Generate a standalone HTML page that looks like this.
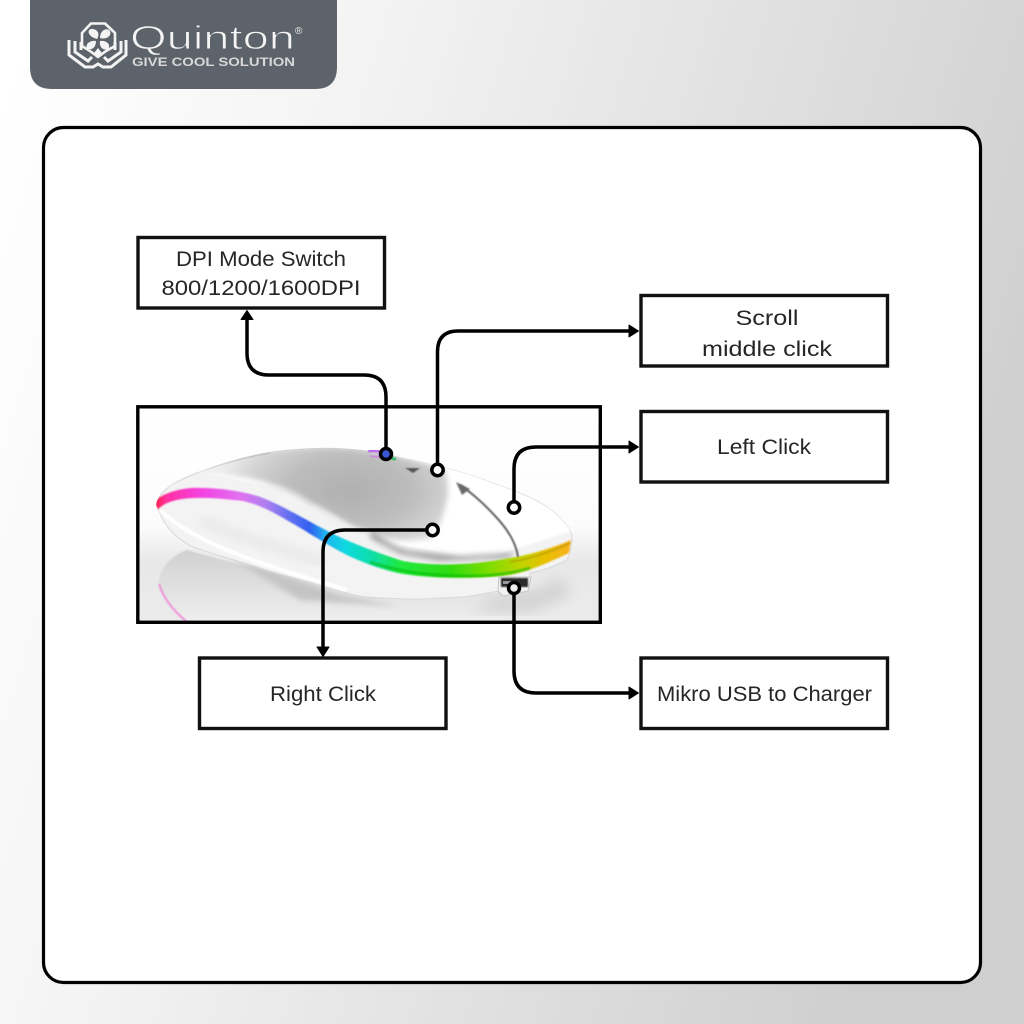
<!DOCTYPE html>
<html>
<head>
<meta charset="utf-8">
<style>
html,body{margin:0;padding:0;width:1024px;height:1024px;overflow:hidden}
svg{display:block}
text{font-family:"Liberation Sans",sans-serif;fill:#262626}
.l{font-size:21px;text-anchor:middle}
</style>
</head>
<body>
<svg width="1024" height="1024" viewBox="0 0 1024 1024" xmlns="http://www.w3.org/2000/svg">
<defs>
<linearGradient id="bg" x1="0" y1="0.1" x2="1" y2="0.4">
<stop offset="0" stop-color="#ffffff"/><stop offset="0.3" stop-color="#f4f4f4"/><stop offset="1" stop-color="#cfcfcf"/>
</linearGradient>
<linearGradient id="rgb" gradientUnits="userSpaceOnUse" x1="156" y1="0" x2="570" y2="0">
<stop offset="0" stop-color="#ff2050"/><stop offset="0.025" stop-color="#ff30a0"/><stop offset="0.107" stop-color="#f440e0"/>
<stop offset="0.203" stop-color="#e070f0"/><stop offset="0.263" stop-color="#b080f0"/><stop offset="0.324" stop-color="#6070f0"/>
<stop offset="0.372" stop-color="#3060f0"/><stop offset="0.408" stop-color="#20b0f0"/><stop offset="0.457" stop-color="#10d8e0"/>
<stop offset="0.53" stop-color="#10e0a0"/><stop offset="0.589" stop-color="#20e840"/><stop offset="0.71" stop-color="#30dc10"/>
<stop offset="0.807" stop-color="#80dc00"/><stop offset="0.88" stop-color="#c0d400"/><stop offset="0.94" stop-color="#e8c000"/><stop offset="1" stop-color="#f8b020"/>
</linearGradient>
<radialGradient id="shell" gradientUnits="userSpaceOnUse" cx="350" cy="490" r="135" gradientTransform="translate(350 490) scale(1 .55) translate(-350 -490)">
<stop offset="0" stop-color="#b0b0b0"/><stop offset="0.45" stop-color="#bcbcbc"/><stop offset="0.75" stop-color="#d2d2d2"/><stop offset="1" stop-color="#eeeeee"/>
</radialGradient>
<linearGradient id="floor" x1="0" y1="0" x2="0" y2="1">
<stop offset="0" stop-color="#ffffff"/><stop offset="0.55" stop-color="#fcfcfc"/><stop offset="0.72" stop-color="#e8e8e8"/><stop offset="1" stop-color="#ebebeb"/>
</linearGradient>
<linearGradient id="refl" x1="0" y1="0" x2="0" y2="1">
<stop offset="0" stop-color="#d0d0d0"/><stop offset="1" stop-color="#efefef"/>
</linearGradient>
<filter id="b1"><feGaussianBlur stdDeviation="0.8"/></filter>
<filter id="b3"><feGaussianBlur stdDeviation="3"/></filter>
<filter id="b5"><feGaussianBlur stdDeviation="5"/></filter>
<filter id="b6"><feGaussianBlur stdDeviation="7"/></filter>
<clipPath id="pic"><rect x="138" y="407" width="462" height="215"/></clipPath>
<clipPath id="body"><path d="M156 505C158 493 172 482 197 473C225 462 260 452 290 450C320 447 350 448 373 452C400 457 430 464 453 470C475 476 490 482 503 487C530 496 550 507 560 518C568 526 573 533 572 541C571 550 569 555 567 560C555 566 545 570 530 573L528 588C510 590 500 590 487 593C470 597 450 598 437 598C420 600 400 599 387 598C375 598 360 597 347 593C335 590 325 587 313 583C295 578 275 573 257 567C235 560 212 554 193 547C185 543 178 538 173 533C167 527 162 520 160 513Z"/></clipPath>
</defs>

<rect width="1024" height="1024" fill="url(#bg)"/>

<!-- logo tab -->
<path d="M30 0H337V67Q337 89 315 89H52Q30 89 30 67Z" fill="#5d636a"/>
<path d="M91 23.500H105L115 33V46L106 51L98 57L90 51L82 46V33Z" fill="none" stroke="#f4f4f4" stroke-width="2.600" stroke-linejoin="round"/>
<g fill="none" stroke="#f4f4f4" stroke-width="3" stroke-linejoin="miter">
<path d="M69 40V55L85 67H93L98 64L103 67H111L126 55V40"/>
<path d="M75 41V52L88 61L92 57M121 41V52L108 61L104 57"/>
<path d="M81 42V50M115 42V50"/>
</g>
<g fill="#f4f4f4">
<path d="M97 39C86 36 87 28 93 29C98 30 100 34 97 39Z"/>
<path d="M100 38C100 30 107 27 110 31C112 36 106 40 100 38Z"/>
<path d="M100 41C108 40 111 46 108 49C103 51 99 47 100 41Z"/>
<path d="M96 41C96 48 91 51 87 48C85 44 90 40 96 41Z"/>
<path d="M98 48L102 53L98 58L94 53Z"/>
</g>
<text x="130" y="49" style="font-size:33px;fill:#f4f4f4;stroke:#5d636a;stroke-width:.9" textLength="165" lengthAdjust="spacingAndGlyphs">Quinton</text>
<text x="295" y="34" style="font-size:10px;fill:#f0f0f0">®</text>
<text x="132" y="66" style="font-size:12px;font-weight:bold;fill:#d8d8d8" textLength="163" lengthAdjust="spacingAndGlyphs">GIVE COOL SOLUTION</text>

<!-- card -->
<rect x="43.500" y="127.500" width="937" height="855" rx="20" fill="#fff" stroke="#000" stroke-width="3.200"/>

<!-- mouse picture -->
<g clip-path="url(#pic)">
<rect x="138" y="407" width="462" height="215" fill="url(#floor)"/>
<!-- reflection -->
<path d="M187 550C170 556 158 570 159 585C161 600 172 612 186 622H500L540 590L400 600L260 570Z" fill="url(#refl)" filter="url(#b1)"/>
<path d="M159 584C164 600 175 612 186 621" fill="none" stroke="#f08ed8" stroke-width="2" filter="url(#b1)"/>
<path d="M495 598C520 596 545 590 560 576L570 595L530 612H470Z" fill="#d2d2d2" filter="url(#b6)"/>
<path d="M230 557L340 595L400 606L300 600Z" fill="#c4c4c4" filter="url(#b3)"/>
<!-- body -->
<path d="M156 505C158 493 172 482 197 473C225 462 260 452 290 450C320 447 350 448 373 452C400 457 430 464 453 470C475 476 490 482 503 487C530 496 550 507 560 518C568 526 573 533 572 541C571 550 569 555 567 560C555 566 545 570 530 573L528 588C510 590 500 590 487 593C470 597 450 598 437 598C420 600 400 599 387 598C375 598 360 597 347 593C335 590 325 587 313 583C295 578 275 573 257 567C235 560 212 554 193 547C185 543 178 538 173 533C167 527 162 520 160 513Z" fill="#f3f3f3" stroke="#d8d8d8" stroke-width="1"/>
<g clip-path="url(#body)">
<path d="M160 510C200 550 300 575 347 590" fill="none" stroke="#fff" stroke-width="4" filter="url(#b1)"/>
<path d="M200 520C240 538 285 550 325 562" fill="none" stroke="#ececec" stroke-width="14" filter="url(#b3)"/>
<!-- white top band -->
<path d="M160 492C175 478 190 474 197 472L290 490L345 525L400 545L480 560L575 530L575 470L455 465L380 450L200 470Z" fill="#ffffff" filter="url(#b1)"/>
<!-- silver shell -->
<path d="M168 484C200 465 250 451 290 449C320 446 350 447 373 451C400 456 425 462 445 470C452 490 445 518 432 538C410 543 385 540 370 533C355 528 345 522 340 519C325 510 315 505 307 501C295 493 285 488 273 485C255 478 235 475 197 474C185 475 178 478 168 484Z" fill="url(#shell)" filter="url(#b3)"/>
<path d="M372 530C385 541 395 548 410 551L460 556L515 553L510 558L440 561L400 554L370 538Z" fill="#a2a2a2" filter="url(#b3)"/>
<path d="M172 483C190 472 225 460 270 452" fill="none" stroke="#b8b8b8" stroke-width="3" filter="url(#b1)"/>
<!-- light band -->
<path d="M156 500C165 492 185 487 200 488C225 488 250 493 263 498C285 507 310 522 320 527C345 541 375 552 403 561C430 566 470 566 510 558C530 555 555 547 571 540L569 553C550 562 530 571 510 575C480 579 435 579 403 574C380 570 355 559 347 555C325 544 300 527 290 522C270 510 250 500 233 500C210 497 185 497 173 501C165 503 160 507 156 511Z" fill="url(#rgb)" filter="url(#b1)"/>
<path d="M370 562C400 572 430 576 470 576C490 576 510 574 530 568" fill="none" stroke="#00b800" stroke-opacity=".55" stroke-width="3" filter="url(#b1)"/>
<path d="M510 562C535 558 555 550 570 543" fill="none" stroke="#a89000" stroke-opacity=".7" stroke-width="1.500" filter="url(#b1)"/>
</g>
<!-- split line -->
<path d="M460 485C475 495 487 507 497 518C508 530 516 543 518 557" fill="none" stroke="#4e4e4e" stroke-width="1.800" filter="url(#b1)"/>
<path d="M456 482L470 489L462 495Z" fill="#6a6a6a" filter="url(#b1)"/>
<path d="M405 468L420 468L413 473Z" fill="#555" filter="url(#b1)"/>
<!-- DPI glow -->
<path d="M368 451C376 450 382 452 388 454" fill="none" stroke="#b050e8" stroke-width="2.500" filter="url(#b1)"/>
<path d="M370 456C376 456 382 457 388 458" fill="none" stroke="#d070e8" stroke-width="1.500" filter="url(#b1)"/>
<path d="M388 456L396 460" fill="none" stroke="#20b860" stroke-width="3" filter="url(#b1)"/>
<circle cx="386" cy="454" r="5" fill="#3858d8"/>
<!-- usb -->
<path d="M499 577H531L528 591L503 596L498 591Z" fill="#f2f2f2" stroke="#c4c4c4"/>
<rect x="501" y="578" width="27" height="9" fill="#2c2c2c" filter="url(#b1)"/>
<rect x="503" y="581" width="8" height="3" fill="#9a9a9a"/>
</g>
<rect x="137.800" y="406.800" width="462.500" height="215.500" fill="none" stroke="#000" stroke-width="3.400"/>

<!-- boxes -->
<g fill="#fff" stroke="#111" stroke-width="3.400">
<rect x="138" y="237.500" width="246.500" height="70.500"/>
<rect x="641" y="295.500" width="246.500" height="70.500"/>
<rect x="641" y="411.500" width="246.500" height="70.500"/>
<rect x="199.500" y="658" width="246.500" height="70.500"/>
<rect x="641" y="658" width="246.500" height="70.500"/>
</g>

<!-- labels -->
<text class="l" x="261" y="266" textLength="170" lengthAdjust="spacingAndGlyphs">DPI Mode Switch</text>
<text class="l" x="261" y="295" textLength="199" lengthAdjust="spacingAndGlyphs">800/1200/1600DPI</text>
<text class="l" x="767" y="325" textLength="63" lengthAdjust="spacingAndGlyphs">Scroll</text>
<text class="l" x="767" y="356" textLength="130" lengthAdjust="spacingAndGlyphs">middle click</text>
<text class="l" x="764" y="454" textLength="94" lengthAdjust="spacingAndGlyphs">Left Click</text>
<text class="l" x="323" y="701" textLength="106" lengthAdjust="spacingAndGlyphs">Right Click</text>
<text class="l" x="764.500" y="701" textLength="215" lengthAdjust="spacingAndGlyphs">Mikro USB to Charger</text>

<!-- connectors -->
<g fill="none" stroke="#000" stroke-width="3.500">
<path d="M386 449V397Q386 375 364 375H269Q247 375 247 353V318"/>
<path d="M437.500 464V352Q437.500 331 458 331H630"/>
<path d="M514 501V469Q514 447 536 447H630"/>
<path d="M426 530H345Q323 530 323 552V648"/>
<path d="M514 594V671Q514 693 536 693H630"/>
</g>
<g fill="#000" stroke="#000" stroke-width="1" stroke-linejoin="round">
<path d="M247 310.500L253 319.500H241Z"/>
<path d="M638.500 331L629 325V337Z"/>
<path d="M638.500 447L629 441V453Z"/>
<path d="M323 656.500L317 647H329Z"/>
<path d="M638.500 693L629 687V699Z"/>
</g>
<g fill="#fff" stroke="#000" stroke-width="3.500">
<circle cx="386" cy="454" r="5.500" fill="none"/>
<circle cx="437.500" cy="470" r="5.700"/>
<circle cx="514" cy="507.500" r="5.700"/>
<circle cx="432.500" cy="530" r="5.700"/>
<circle cx="514" cy="588" r="5.500" fill="#eee"/>
</g>
</svg>
</body>
</html>
